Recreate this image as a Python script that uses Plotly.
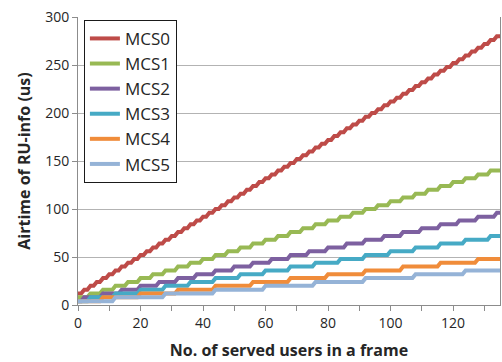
import plotly.graph_objects as go

# Number of served users in a frame (x axis)
users = list(range(0, 136))

# Airtime staircases: user count at which each level begins, and the level (us)
mcs0_starts = [0, 2, 4, 6, 8, 10, 12, 14, 16, 18, 20, 22, 24, 26, 28, 30, 32, 34, 36, 38,
               40, 42, 44, 46, 48, 50, 52, 54, 56, 58, 60, 62, 64, 66, 68, 70, 72, 74, 76, 78,
               80, 82, 84, 86, 88, 90, 92, 94, 96, 98, 100, 102, 104, 106, 108, 110, 112, 114,
               116, 118, 120, 122, 124, 126, 128, 130, 132, 134]
mcs0_levels = [12, 16, 20, 24, 28, 32, 36, 40, 44, 48, 52, 56, 60, 64, 68, 72, 76, 80, 84, 88,
               92, 96, 100, 104, 108, 112, 116, 120, 124, 128, 132, 136, 140, 144, 148, 152,
               156, 160, 164, 168, 172, 176, 180, 184, 188, 192, 196, 200, 204, 208, 212, 216,
               220, 224, 228, 232, 236, 240, 244, 248, 252, 256, 260, 264, 268, 272, 276, 280]

mcs1_starts = [0, 4, 8, 12, 16, 20, 24, 28, 32, 36, 40, 44, 48, 52, 56, 60, 64, 68, 72, 76,
               80, 84, 88, 92, 96, 100, 104, 108, 112, 116, 120, 124, 128, 132]
mcs1_levels = [8, 12, 16, 20, 24, 28, 32, 36, 40, 44, 48, 52, 56, 60, 64, 68, 72, 76, 80, 84,
               88, 92, 96, 100, 104, 108, 112, 116, 120, 124, 128, 132, 136, 140]

mcs2_starts = [0, 2, 8, 14, 20, 26, 32, 38, 44, 50, 56, 62, 68, 74, 80, 86, 92, 98, 104, 110,
               116, 122, 128, 134]
mcs2_levels = [4, 8, 12, 16, 20, 24, 28, 32, 36, 40, 44, 48, 52, 56, 60, 64, 68, 72, 76, 80,
               84, 88, 92, 96]

mcs3_starts = [0, 4, 12, 20, 28, 36, 44, 52, 60, 68, 76, 84, 92, 100, 108, 116, 124, 132]
mcs3_levels = [4, 8, 12, 16, 20, 24, 28, 32, 36, 40, 44, 48, 52, 56, 60, 64, 68, 72]

mcs4_starts = [0, 8, 20, 32, 44, 56, 68, 80, 92, 104, 116, 128]
mcs4_levels = [4, 8, 12, 16, 20, 24, 28, 32, 36, 40, 44, 48]

mcs5_starts = [0, 12, 28, 44, 60, 76, 92, 108, 124]
mcs5_levels = [4, 8, 12, 16, 20, 24, 28, 32, 36]

series_names = ["MCS0", "MCS1", "MCS2", "MCS3", "MCS4", "MCS5"]
series_steps = [
    (mcs0_starts, mcs0_levels),
    (mcs1_starts, mcs1_levels),
    (mcs2_starts, mcs2_levels),
    (mcs3_starts, mcs3_levels),
    (mcs4_starts, mcs4_levels),
    (mcs5_starts, mcs5_levels),
]
colors = ["#BE4B48", "#98B954", "#7D60A0", "#46AAC5", "#F08C3A", "#95B3D7"]


def expand(starts, levels):
    """Turn (start user, level) pairs into one airtime value per user count."""
    out = []
    idx = 0
    for n in users:
        while idx + 1 < len(starts) and starts[idx + 1] <= n:
            idx += 1
        out.append(levels[idx])
    return out


fig = go.Figure()
for name, (starts, levels), color in zip(series_names, series_steps, colors):
    fig.add_trace(go.Scatter(
        x=users, y=expand(starts, levels), name=name, mode="lines",
        line=dict(color=color, width=4),
    ))

tick_font = dict(family="Open Sans", size=14, color="#262626")
title_font = dict(family="Open Sans", size=16, color="#262626")

fig.update_layout(
    width=502, height=362,
    margin=dict(l=78, r=2, t=17, b=57),
    paper_bgcolor="white", plot_bgcolor="white",
    showlegend=True,
    legend=dict(
        x=0.014, y=0.99, xanchor="left", yanchor="top",
        bgcolor="white", bordercolor="#1a1a1a", borderwidth=1,
        font=dict(family="Open Sans", size=17, color="#262626"),
        itemwidth=30, tracegroupgap=0,
    ),
)

fig.update_xaxes(
    range=[0, 135], dtick=20, tick0=0,
    showgrid=False, zeroline=False,
    showline=True, linecolor="#8C8C8C", linewidth=1,
    ticks="outside", ticklen=5, tickcolor="#8C8C8C",
    minor=dict(dtick=10, ticks="outside", ticklen=5, tickcolor="#8C8C8C"),
    tickfont=tick_font,
    title=dict(text="<b>No. of served users in a frame</b>", font=title_font, standoff=14),
)
fig.update_yaxes(
    range=[0, 300], dtick=50, tick0=0,
    showgrid=True, gridcolor="#B3B3B3", gridwidth=1, zeroline=False,
    showline=True, linecolor="#8C8C8C", linewidth=1, mirror=True,
    ticks="outside", ticklen=5, tickcolor="#8C8C8C",
    tickfont=tick_font,
    title=dict(text="<b>Airtime of RU-info (us)</b>", font=title_font, standoff=10),
)

fig.write_html("out.html")
